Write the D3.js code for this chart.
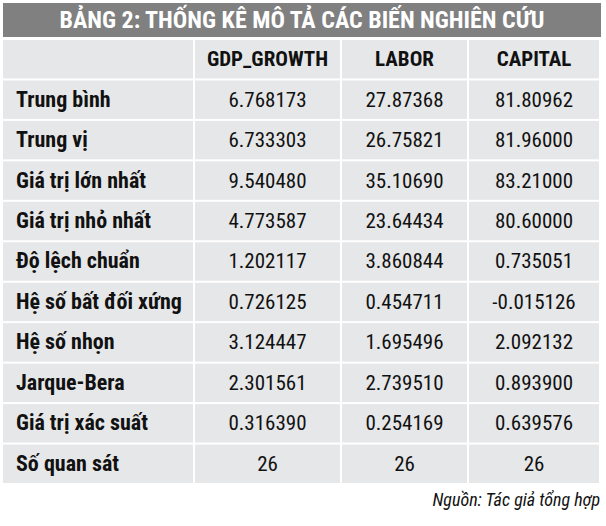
<!DOCTYPE html>
<html><head><meta charset="utf-8">
<script src="https://cdn.jsdelivr.net/npm/d3@7"></script>
<style>body{margin:0;background:#fff}</style>
</head><body>
<svg id="t" width="606" height="526"></svg>
<script>
const title = "BẢNG 2: THỐNG KÊ MÔ TẢ CÁC BIẾN NGHIÊN CỨU";
const columns = ["GDP_GROWTH", "LABOR", "CAPITAL"];
const rowLabels = ["Trung bình", "Trung vị", "Giá trị lớn nhất", "Giá trị nhỏ nhất", "Độ lệch chuẩn",
  "Hệ số bất đối xứng", "Hệ số nhọn", "Jarque-Bera", "Giá trị xác suất", "Số quan sát"];
const gdpGrowth = ["6.768173", "6.733303", "9.540480", "4.773587", "1.202117", "0.726125", "3.124447", "2.301561", "0.316390", "26"];
const labor = ["27.87368", "26.75821", "35.10690", "23.64434", "3.860844", "0.454711", "1.695496", "2.739510", "0.254169", "26"];
const capital = ["81.80962", "81.96000", "83.21000", "80.60000", "0.735051", "-0.015126", "2.092132", "0.893900", "0.639576", "26"];
const source = "Nguồn: Tác giả tổng hợp";

const font = "'Liberation Sans Narrow', 'Roboto Condensed', 'DejaVu Sans Condensed', sans-serif";
const svg = d3.select("#t");
const fill = "#e6e7e8";

// column edges (label col + 3 data cols)
const edges = [3, 195, 342, 469, 601];
const y = d3.scaleBand().domain(d3.range(11)).range([40, 483]).paddingInner(0.05);

svg.append("rect").attr("x", 3).attr("y", 3).attr("width", 598).attr("height", 34).attr("fill", "#808080");
svg.append("text").attr("x", 302).attr("y", 28).attr("text-anchor", "middle")
  .attr("fill", "#fff").attr("font-family", font).attr("font-weight", "bold").attr("font-size", 24)
  .text(title);

const rows = [{label: "", vals: columns, head: true}].concat(
  rowLabels.map((l, i) => ({label: l, vals: [gdpGrowth[i], labor[i], capital[i]]})));

rows.forEach((r, i) => {
  const g = svg.append("g").attr("transform", `translate(0,${y(i)})`);
  for (let c = 0; c < 4; c++) {
    g.append("rect").attr("x", edges[c]).attr("width", edges[c + 1] - edges[c] - 2)
      .attr("height", y.bandwidth()).attr("fill", fill);
  }
  const ty = y.bandwidth() / 2 + 7;
  g.append("text").attr("x", 16).attr("y", ty).attr("font-family", font)
    .attr("font-weight", "bold").attr("font-size", 22).attr("fill", "#111").text(r.label);
  r.vals.forEach((v, c) => {
    g.append("text").attr("x", (edges[c + 1] + edges[c + 2] - 2) / 2).attr("y", ty)
      .attr("text-anchor", "middle").attr("font-family", font)
      .attr("font-weight", r.head ? "bold" : "normal").attr("font-size", 21)
      .attr("fill", "#111").text(v);
  });
});

svg.append("text").attr("x", 600).attr("y", 506).attr("text-anchor", "end")
  .attr("font-family", font).attr("font-style", "italic").attr("font-size", 18)
  .attr("fill", "#111").text(source);
</script>
</body></html>
